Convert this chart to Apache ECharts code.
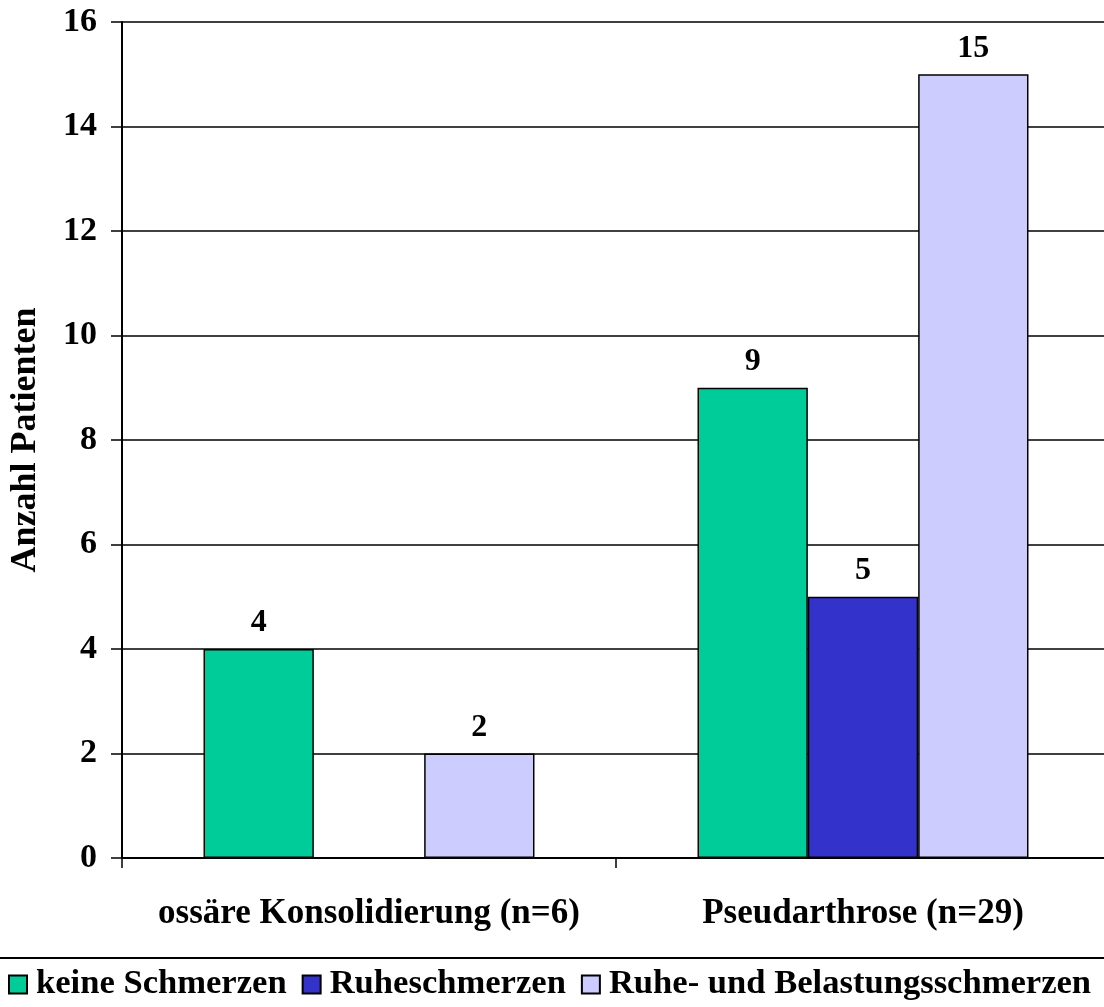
<!DOCTYPE html>
<html>
<head>
<meta charset="utf-8">
<script src="https://cdn.jsdelivr.net/npm/echarts@6/dist/echarts.min.js"></script>
<style>
  html, body { margin: 0; padding: 0; background: #fff; }
  #chart { width: 1104px; height: 1007px; }
</style>
</head>
<body>
<div id="chart"></div>
<script>
// Patient counts by pain category, split by healing outcome
const categories = ['ossäre Konsolidierung (n=6)', 'Pseudarthrose (n=29)'];
const seriesNames = ['keine Schmerzen', 'Ruheschmerzen', 'Ruhe- und Belastungsschmerzen'];
const keineSchmerzen = [4, 9];
const ruheSchmerzen = [null, 5];
const ruheBelastung = [2, 15];
const yTicks = [0, 2, 4, 6, 8, 10, 12, 14, 16];

const FONT = '"Liberation Serif", "Times New Roman", serif';
const colors = ['#00CC99', '#3333CC', '#CCCCFF'];
const values = [keineSchmerzen, ruheSchmerzen, ruheBelastung];

const chart = echarts.init(document.getElementById('chart'));

const series = seriesNames.map((name, i) => ({
  name,
  type: 'bar',
  data: values[i],
  barGap: '0%',
  barCategoryGap: '33%',
  itemStyle: { color: colors[i], borderColor: '#000', borderWidth: 1.5 },
  label: {
    show: true,
    position: 'top',
    distance: 10,
    color: '#000',
    fontFamily: FONT,
    fontWeight: 'bold',
    fontSize: 32
  },
  animation: false
}));

chart.setOption({
  backgroundColor: '#fff',
  animation: false,
  grid: {
    left: 122, width: 988, top: 22, bottom: 149,
    containLabel: false, outerBoundsMode: 'none'
  },
  xAxis: {
    type: 'category',
    data: categories,
    axisLine: { show: true, lineStyle: { color: '#000', width: 2 } },
    axisTick: { show: true, length: 10, lineStyle: { color: '#000', width: 1.5 } },
    axisLabel: {
      interval: 0,
      color: '#000', fontFamily: FONT, fontWeight: 'bold', fontSize: 35, margin: 38
    },
    splitLine: { show: false }
  },
  yAxis: {
    type: 'value',
    min: yTicks[0],
    max: yTicks[yTicks.length - 1],
    interval: 2,
    name: 'Anzahl Patienten',
    nameLocation: 'middle',
    nameGap: 78,
    nameRotate: 90,
    nameTextStyle: { color: '#000', fontFamily: FONT, fontWeight: 'bold', fontSize: 36 },
    axisLine: { show: true, lineStyle: { color: '#000', width: 2 } },
    axisTick: { show: true, length: 11, lineStyle: { color: '#000', width: 1.5 } },
    axisLabel: {
      color: '#000', fontFamily: FONT, fontWeight: 'bold', fontSize: 34, margin: 25
    },
    splitLine: { show: true, lineStyle: { color: '#000', width: 1.5 } }
  },
  legend: {
    data: seriesNames,
    left: 8,
    top: 967,
    padding: 0,
    icon: 'rect',
    itemWidth: 18,
    itemHeight: 18,
    itemGap: 15,
    itemStyle: { borderColor: '#000', borderWidth: 2 },
    textStyle: { color: '#000', fontFamily: FONT, fontWeight: 'bold', fontSize: 34.6, padding: [0, 0, 0, 4] }
  },
  graphic: [{
    type: 'line',
    shape: { x1: 0, y1: 958, x2: 1104, y2: 958 },
    style: { stroke: '#000', lineWidth: 2 }
  }],
  series
});
</script>
</body>
</html>
